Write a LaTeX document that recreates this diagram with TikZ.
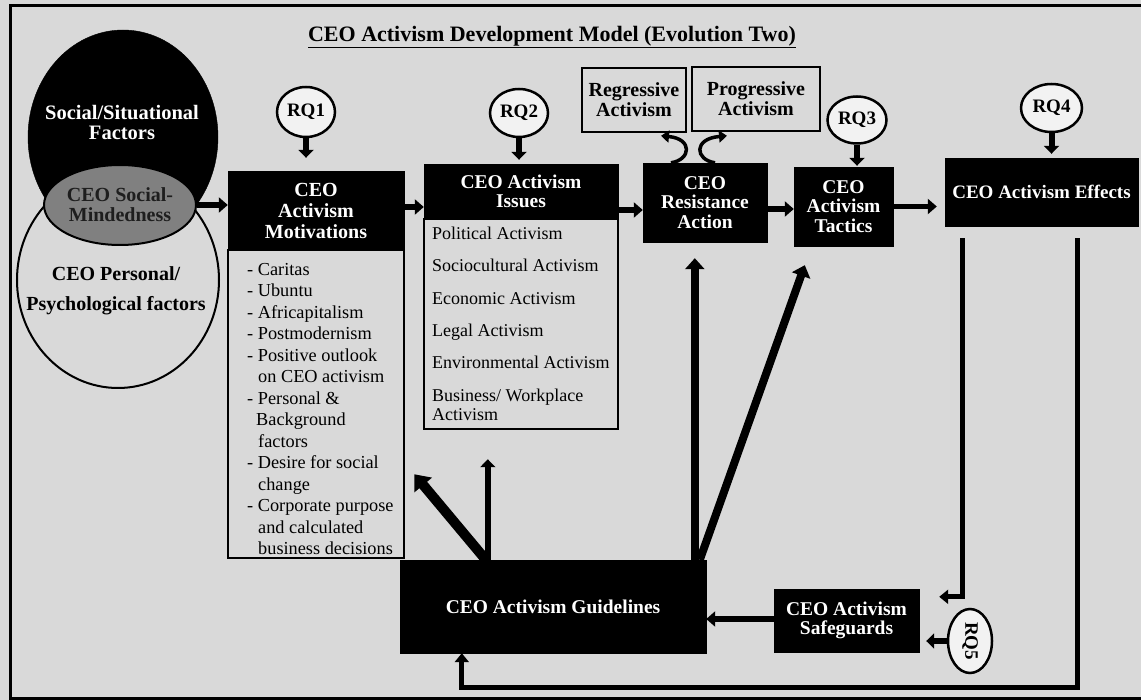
\documentclass[tikz,border=0pt]{standalone}
\usepackage{fontspec}
\setmainfont{Liberation Serif}
\usetikzlibrary{arrows.meta,shapes.geometric,calc}
\definecolor{bg}{HTML}{D9D9D9}
\definecolor{midgray}{HTML}{808080}
\definecolor{rqfill}{HTML}{F2F2F2}
\definecolor{darktext}{HTML}{1E1E1E}

\begin{document}
\begin{tikzpicture}[x=1pt,y=-1pt,
  blackbox/.style={draw=black,fill=black,text=white,align=center,inner sep=0pt,
    font=\bfseries\fontsize{19.5}{19.5}\selectfont},
  listbox/.style={draw=black,line width=2.5pt,inner sep=0pt},
  choicebox/.style={draw=black,line width=2.5pt,align=center,inner sep=0pt,
    font=\bfseries\fontsize{20}{20}\selectfont},
  rq/.style={ellipse,draw=black,line width=2.5pt,fill=rqfill,inner sep=0pt,
    font=\bfseries\fontsize{19}{19}\selectfont},
  flow/.style={line width=5.5pt,-{Triangle[width=15pt,length=9pt]}},
  rqarrow/.style={line width=6pt,-{Triangle[width=15pt,length=8pt]}},
  fb/.style={line width=5pt,line join=miter,-{Triangle[width=14pt,length=9pt]}},
  heavy/.style={line width=8pt,-{Triangle[width=19pt,length=11pt]}},
  heavier/.style={line width=10pt,-{Triangle[width=22pt,length=14pt]}},
  curly/.style={line width=3.5pt,-{Triangle[width=12pt,length=8pt]}},
  listtext/.style={anchor=north west,inner sep=0pt,align=left},
]
\useasboundingbox (0,0) rectangle (1141,700);
\fill[bg] (0,0) rectangle (1141,700);
\draw[line width=3pt] (10.5,5.5) rectangle (1150,698.5);

% title
\node[font=\bfseries\fontsize{22}{22}\selectfont] (title) at (552,37)
  {\underline{CEO Activism Development Model (Evolution Two)}};

% overlapping factor circles
\node[ellipse,draw=black,line width=2pt,minimum width=202pt,minimum height=216pt,inner sep=0pt] (personal) at (118,280) {};
\node[ellipse,draw=black,fill=black,minimum width=190pt,minimum height=214pt,inner sep=0pt] (social) at (123,137) {};
\node[ellipse,draw=black,line width=2pt,fill=midgray,minimum width=152pt,minimum height=80pt,
  inner sep=0pt,align=center,text=darktext,font=\bfseries\fontsize{20}{20}\selectfont] (mind) at (120,205)
  {CEO Social-\\Mindedness};
\node[text=white,align=center,font=\bfseries\fontsize{20.5}{20}\selectfont] (sociallbl) at (122,122)
  {Social/Situational\\Factors};
\node[align=center,font=\bfseries\fontsize{20}{30}\selectfont] (personallbl) at (116,291)
  {CEO Personal/\\Psychological factors};

% motivations
\node[listbox,minimum width=176pt,minimum height=308pt] (motbody) at (316,404) {};
\node[blackbox,minimum width=176pt,minimum height=79pt,font=\bfseries\fontsize{20}{21}\selectfont] (mothead) at (316,210.5)
  {CEO\\Activism\\Motivations};
\node[listtext,font=\fontsize{18.3}{21.5}\selectfont] (motlist) at (247,263)
  {- Caritas\\- Ubuntu\\- Africapitalism\\- Postmodernism\\- Positive outlook\\
   \hspace*{11pt}on CEO activism\\- Personal \&\\\hspace*{9pt}Background\\\hspace*{11pt}factors\\
   - Desire for social\\\hspace*{11pt}change\\- Corporate purpose\\\hspace*{11pt}and calculated\\
   \hspace*{11pt}business decisions};

% issues
\node[listbox,minimum width=194pt,minimum height=210pt] (issbody) at (521,324) {};
\node[blackbox,minimum width=194pt,minimum height=55pt] (isshead) at (521,191.5)
  {CEO Activism\\Issues};
\node[listtext,font=\fontsize{18}{32.3}\selectfont] (isslist) at (432,227)
  {Political Activism\\Sociocultural Activism\\Economic Activism\\Legal Activism\\
   Environmental Activism\\Business/ Workplace\\[-13.3pt]Activism};

% resistance, tactics, effects
\node[blackbox,minimum width=124pt,minimum height=79pt] (res) at (705,202.5)
  {CEO\\Resistance\\Action};
\node[choicebox,minimum width=104pt,minimum height=64pt] (reg) at (634,100)
  {Regressive\\Activism};
\node[choicebox,minimum width=128pt,minimum height=64pt] (prog) at (756,99)
  {Progressive\\Activism};
\node[blackbox,minimum width=99pt,minimum height=79pt] (tac) at (843.5,206.5)
  {CEO\\Activism\\Tactics};
\node[blackbox,minimum width=193pt,minimum height=68pt,font=\bfseries\fontsize{19}{19}\selectfont] (eff) at (1041.5,192)
  {CEO Activism Effects};

% guidelines and safeguards
\node[blackbox,minimum width=306pt,minimum height=93pt] (guide) at (553,606.5)
  {CEO Activism Guidelines};
\node[blackbox,minimum width=145pt,minimum height=63pt] (safe) at (846.5,620.5)
  {CEO Activism\\Safeguards};

% research questions
\node[rq,minimum width=58pt,minimum height=50pt] (rq1) at (306,112) {RQ1};
\node[rq,minimum width=58pt,minimum height=48pt] (rq2) at (519,113) {RQ2};
\node[rq,minimum width=59pt,minimum height=47pt] (rq3) at (857,120) {RQ3};
\node[rq,minimum width=61pt,minimum height=48pt] (rq4) at (1051.5,108) {RQ4};
\node[rq,minimum width=44pt,minimum height=64pt] (rq5) at (970,641) {};
\node[font=\bfseries\fontsize{19}{19}\selectfont,rotate=-90,inner sep=0pt] (rq5lbl) at (rq5.center) {RQ5};

% main flow
\draw[flow] (mind.east) -- (mind.east -| mothead.west);
\draw[flow] ([yshift=3.5pt]mothead.east) -- ([yshift=3.5pt]mothead.east -| isshead.west);
\draw[flow] ([yshift=-18.5pt]isshead.east) -- ([yshift=-18.5pt]isshead.east -| res.west);
\draw[flow] ([yshift=-6.5pt]res.east) -- ([yshift=-6.5pt]res.east -| tac.west);
\draw[flow,shorten >=8pt] (tac.east) -- (tac.east -| eff.west);

% research question arrows
\draw[rqarrow,shorten >=13pt] (rq1.south) -- (rq1.south |- mothead.north);
\draw[rqarrow,shorten >=4pt] (rq2.south) -- (rq2.south |- isshead.north);
\draw[rqarrow,shorten >=1pt] (rq3.south) -- (rq3.south |- tac.north);
\draw[rqarrow,shorten >=4pt] (rq4.south) -- (rq4.south |- eff.north);
\draw[rqarrow,shorten >=7pt] (rq5.west) -- (rq5.west -| safe.east);

% resistance branches
\draw[curly] ($(res.north)+(-34,0)$) .. controls ($(res.north)+(-14,-3)$) and ($(res.north)+(-12,-24)$) .. ($(res.north)+(-44,-27)$);
\draw[curly] ($(res.north)+(10,0)$) .. controls ($(res.north)+(-10,-3)$) and ($(res.north)+(-12,-24)$) .. ($(res.north)+(22,-27)$);

% feedback from effects
\draw[fb] ($(eff.south west)+(18,12)$) |- ($(safe.north east)+(20,8)$);
\draw[fb] ($(eff.south west)+(133,12)$) |- ($(guide.south west)+(62,34)$) -- ($(guide.south west)+(62,0)$);
\draw[flow] ([yshift=1.5pt]safe.west) -- ([yshift=1.5pt]safe.west -| guide.east);

% guidelines feeding back into the model
\coordinate (gIss) at ($(guide.north west)+(88,0)$);
\coordinate (gMot) at ($(guide.north west)+(86,0)$);
\coordinate (gRes) at ($(guide.north west)+(295,0)$);
\coordinate (gTac) at ($(guide.north west)+(300,0)$);
\draw[rqarrow,shorten >=29pt] (gIss) -- (gIss |- issbody.south);
\draw[heavier] (gMot) -- ($(motbody.south east)+(9,-85)$);
\draw[heavy,shorten >=16pt] (gRes) -- (gRes |- res.south);
\draw[heavy] (gTac) -- ($(tac.south west)+(11,19)$);

% redraw guidelines box over arrow roots
\node[blackbox,minimum width=306pt,minimum height=93pt] (guidetop) at (guide.center)
  {CEO Activism Guidelines};
\end{tikzpicture}
\end{document}
